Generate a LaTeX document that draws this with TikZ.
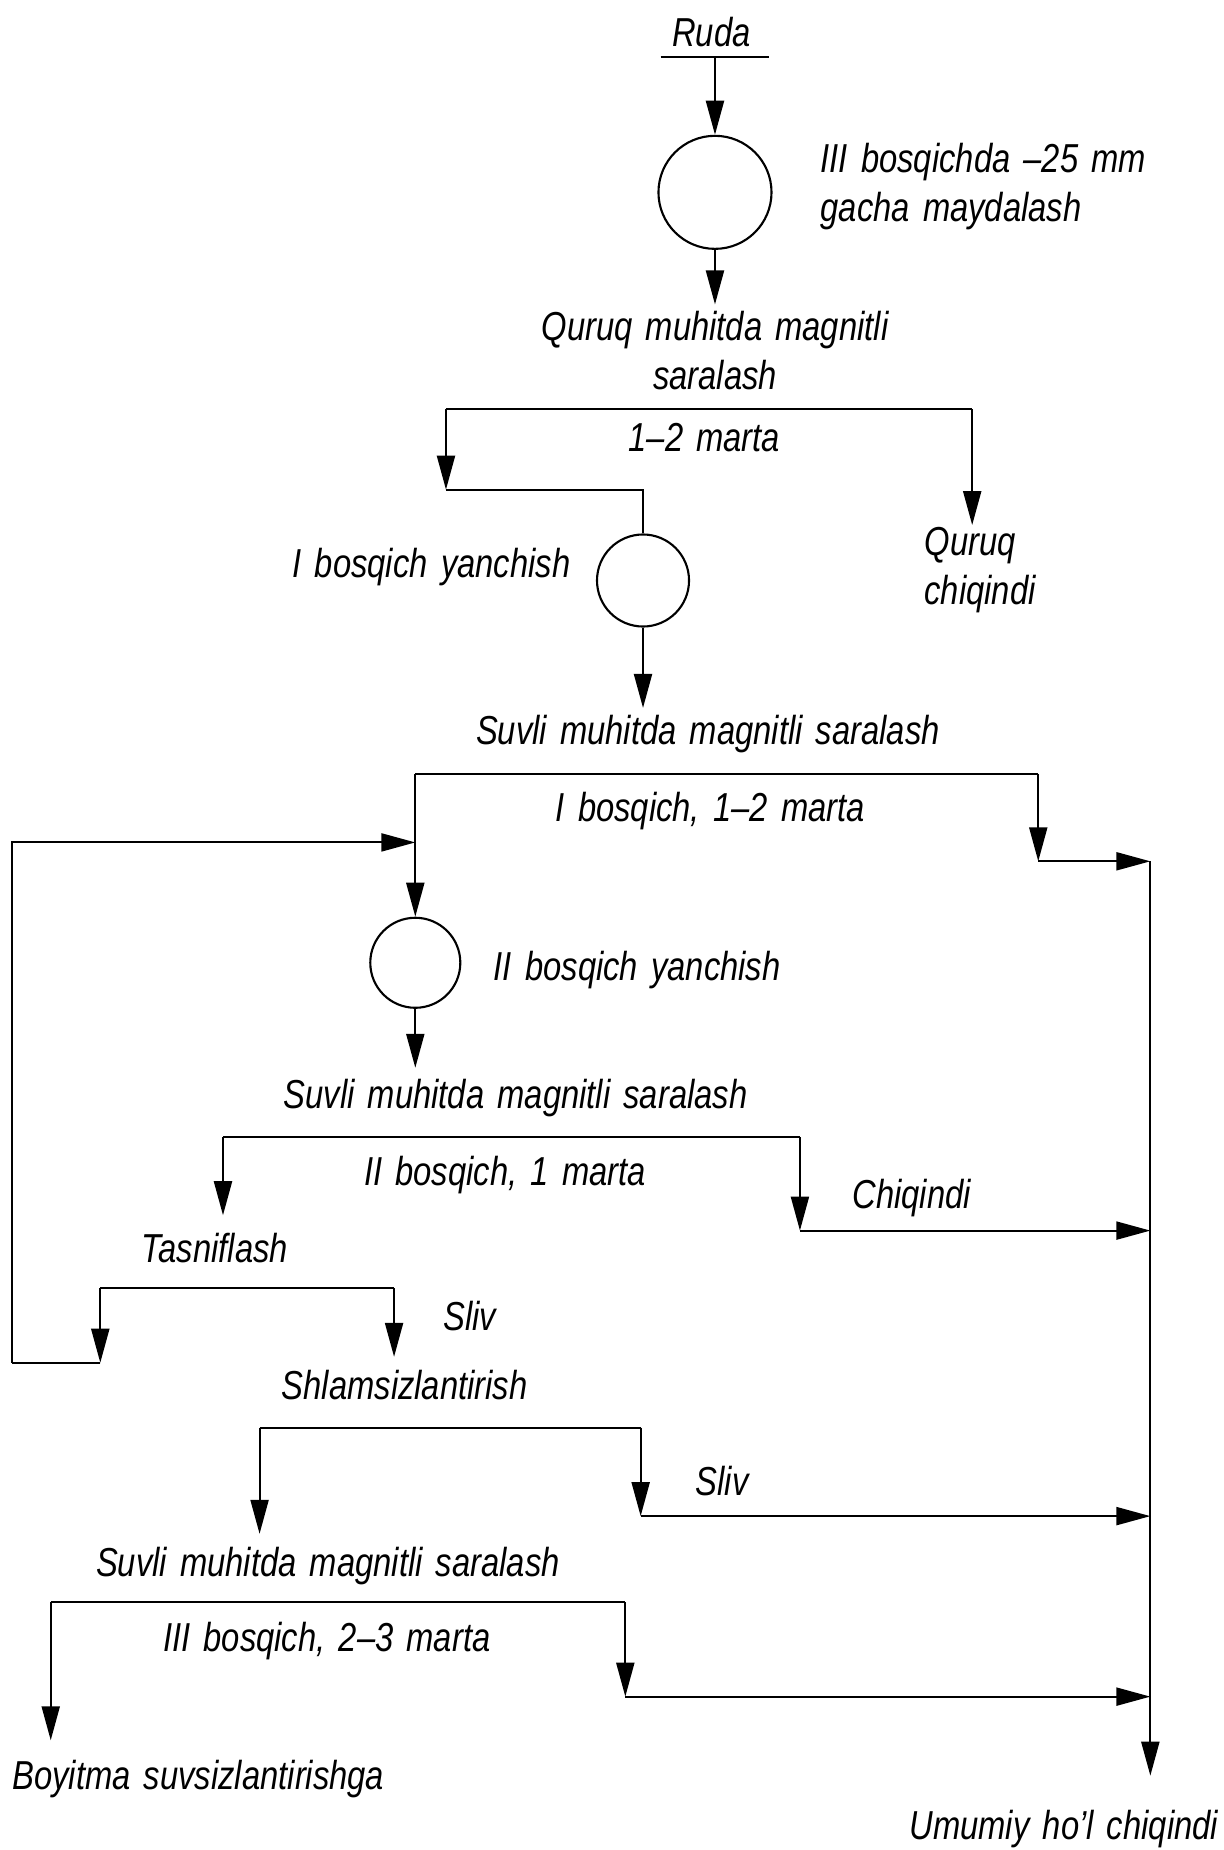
\documentclass[tikz,border=0pt]{standalone}
\usepackage{fontspec}
\setmainfont{Liberation Sans}[FakeStretch=0.81,WordSpace=1.45]
\usetikzlibrary{arrows.meta}

\begin{document}
\begin{tikzpicture}[x=0.11794mm,y=-0.11794mm,
  every node/.style={font=\itshape\fontsize{11.5}{14}\selectfont,inner sep=0pt},
  mill/.style={draw,shape=circle,line width=0.6pt},
  flow/.style={-{Triangle[length=3.4mm,width=1.8mm]},line width=0.6pt},
  line/.style={line width=0.6pt}]
\useasboundingbox (0,0) rectangle (1037,1568);
%Nodes
\path
 (606,163) node[mill,minimum size=11.3mm] (c1) {}
 (545,492) node[mill,minimum size=9.2mm] (c2) {}
 (352,816) node[mill,minimum size=9mm] (c3) {}
 ;
%Labels
\path
 (603,27) node (ruda) {Ruda}
 (695,158) node[anchor=west,align=left] (t1) {III bosqichda –25 mm\\gacha maydalash}
 (606,297) node[align=center] (t2) {Quruq muhitda magnitli\\saralash}
 (597,371) node (m1) {1–2 marta}
 (484,481) node[anchor=east] (y1) {I bosqich yanchish}
 (783,483) node[anchor=west,align=left] (q1) {Quruq\\chiqindi}
 (600,622) node (s1) {Suvli muhitda magnitli saralash}
 (602,687) node (m2) {I bosqich, 1–2 marta}
 (418,822) node[anchor=west] (y2) {II bosqich yanchish}
 (437,931) node (s2) {Suvli muhitda magnitli saralash}
 (428,996) node (m3) {II bosqich, 1 marta}
 (722,1015) node[anchor=west] (ch) {Chiqindi}
 (182,1058) node (tas) {Tasniflash}
 (398,1115) node (sl1) {Sliv}
 (343,1174) node (shl) {Shlamsizlantirish}
 (612,1255) node (sl2) {Sliv}
 (278,1327) node (s3) {Suvli muhitda magnitli saralash}
 (277,1391) node (m4) {III bosqich, 2–3 marta}
 (10,1508) node[anchor=west] (boy) {Boyitma suvsizlantirishga}
 (1033,1550) node[anchor=east] (umu) {Umumiy ho’l chiqindi}
 ;
%Junctions
\coordinate (r0l) at (560,48);
\coordinate (r0r) at (652,48);
\coordinate (r0) at (606,48);
\coordinate (a1) at (606,258);
\coordinate (b1l) at (378,347);
\coordinate (b1r) at (824,347);
\coordinate (k1) at (378,415);
\coordinate (k2) at (824,445);
\coordinate (a2) at (545,600);
\coordinate (b2l) at (352,656);
\coordinate (b2r) at (880,656);
\coordinate (k3) at (880,730);
\coordinate (w0) at (975,730);
\coordinate (w1) at (975,1505);
\coordinate (p1) at (10,1155);
\coordinate (p2) at (10,714);
\coordinate (p3) at (352,714);
\coordinate (a3) at (352,905);
\coordinate (b3l) at (189,964);
\coordinate (b3r) at (678,964);
\coordinate (k4) at (189,1030);
\coordinate (k5) at (678,1043);
\coordinate (j1) at (975,1043);
\coordinate (b4l) at (85,1092);
\coordinate (b4r) at (334,1092);
\coordinate (k6) at (85,1155);
\coordinate (k7) at (334,1150);
\coordinate (b5l) at (220,1210);
\coordinate (b5r) at (543,1210);
\coordinate (k8) at (220,1300);
\coordinate (k9) at (543,1285);
\coordinate (j2) at (975,1285);
\coordinate (b6l) at (43,1358);
\coordinate (b6r) at (530,1358);
\coordinate (k10) at (43,1475);
\coordinate (k11) at (530,1438);
\coordinate (j3) at (975,1438);
%Edges
\draw[line] (r0l) -- (r0r);
\draw[flow] (r0) -- (c1);
\draw[flow] (c1) -- (a1);
\draw[line] (b1l) -- (b1r);
\draw[flow] (b1l) -- (k1);
\draw[line] (k1) -- (k1 -| c2) -- (c2);
\draw[flow] (b1r) -- (k2);
\draw[flow] (c2) -- (a2);
\draw[line] (b2l) -- (b2r);
\draw[flow] (b2l) -- (c3);
\draw[flow] (b2r) -- (k3);
\draw[flow] (k3) -- (w0);
\draw[flow] (p1) -- (p2) -- (p3);
\draw[flow] (c3) -- (a3);
\draw[line] (b3l) -- (b3r);
\draw[flow] (b3l) -- (k4);
\draw[flow] (b3r) -- (k5);
\draw[flow] (k5) -- (j1);
\draw[line] (b4l) -- (b4r);
\draw[flow] (b4l) -- (k6);
\draw[flow] (b4r) -- (k7);
\draw[line] (k6) -- (p1);
\draw[line] (b5l) -- (b5r);
\draw[flow] (b5l) -- (k8);
\draw[flow] (b5r) -- (k9);
\draw[flow] (k9) -- (j2);
\draw[line] (b6l) -- (b6r);
\draw[flow] (b6l) -- (k10);
\draw[flow] (b6r) -- (k11);
\draw[flow] (k11) -- (j3);
\draw[flow] (w0) -- (w1);
\end{tikzpicture}
\end{document}
